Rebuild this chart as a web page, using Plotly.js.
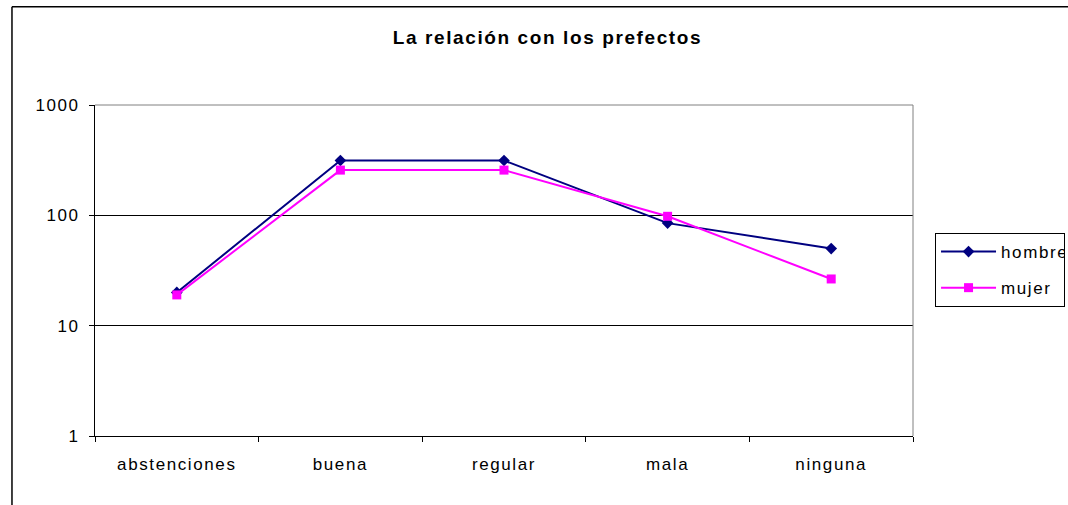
<!DOCTYPE html>
<html>
<head>
<meta charset="utf-8">
<script src="https://cdn.plot.ly/plotly-3.0.1.min.js"></script>
<style>
  html, body { margin: 0; padding: 0; background: #fff; }
  #chart { width: 1068px; height: 505px; }
  #chart .main-svg text { letter-spacing: 1.6px; }
</style>
</head>
<body>
<div id="chart"></div>
<script>
const categories = ["abstenciones", "buena", "regular", "mala", "ninguna"];
const hombre = [20, 314, 314, 85, 50];
const mujer = [19, 257, 257, 98, 26.5];
const yTickVals = [1, 10, 100, 1000];
const yTickText = ["1", "10", "100", "1000"];
const chartTitle = "La relación con los prefectos";

const font = { family: "Liberation Sans, Arial, sans-serif", size: 17, color: "#000" };

const traces = [
  {
    x: categories, y: hombre, name: "hombre", type: "scatter", mode: "lines+markers",
    line: { color: "#000080", width: 2 },
    marker: { symbol: "diamond", size: 9, color: "#000080" },
    legendgroup: "h"
  },
  {
    x: categories, y: mujer, name: "mujer", type: "scatter", mode: "lines+markers",
    line: { color: "#FF00FF", width: 2 },
    marker: { symbol: "square", size: 9, color: "#FF00FF" },
    legendgroup: "m"
  }
];

const layout = {
  width: 1068, height: 505,
  margin: { l: 95, r: 155, t: 105, b: 69 },
  paper_bgcolor: "#fff", plot_bgcolor: "#fff",
  font: font,
  title: {
    text: chartTitle,
    font: { family: font.family, size: 19, weight: "bold", color: "#000" },
    x: 0.5126, xanchor: "center", xref: "container",
    y: 0.927, yanchor: "middle", yref: "container"
  },
  xaxis: {
    type: "category", range: [-0.5, 4.5], autorange: false,
    showgrid: false, zeroline: false,
    showline: true, linecolor: "#000", linewidth: 1,
    ticks: "outside", ticklen: 5, tickcolor: "#000", tickson: "boundaries",
    ticklabelstandoff: 13,
    tickfont: font
  },
  yaxis: {
    type: "log", range: [0, 3], autorange: false,
    tickmode: "array", tickvals: yTickVals, ticktext: yTickText,
    showgrid: true, gridcolor: "#000", gridwidth: 1, zeroline: false,
    showline: true, linecolor: "#000", linewidth: 1,
    ticks: "outside", ticklen: 5, tickcolor: "#000",
    ticklabelstandoff: 6,
    tickfont: font
  },
  showlegend: true,
  legend: {
    xref: "container", yref: "container",
    x: 0.8755, xanchor: "left", y: 0.5386, yanchor: "top",
    bordercolor: "#000", borderwidth: 1, bgcolor: "#fff",
    font: font, itemwidth: 55, traceorder: "grouped", tracegroupgap: 11
  },
  shapes: [
    { type: "line", xref: "paper", yref: "paper", x0: 0, x1: 1, y0: 1, y1: 1,
      line: { color: "#808080", width: 1 }, layer: "above" },
    { type: "line", xref: "paper", yref: "paper", x0: 1, x1: 1, y0: 0, y1: 1,
      line: { color: "#808080", width: 1 }, layer: "above" },
    { type: "line", xref: "paper", yref: "paper", x0: -0.1015, x1: -0.1015, y0: -0.3, y1: 1.297,
      line: { color: "#000", width: 1.5 }, layer: "above" },
    { type: "line", xref: "paper", yref: "paper", x0: -0.1015, x1: 1.3, y0: 1.297, y1: 1.297,
      line: { color: "#000", width: 1.5 }, layer: "above" }
  ]
};

Plotly.newPlot("chart", traces, layout, { displayModeBar: false, staticPlot: true });
</script>
</body>
</html>
